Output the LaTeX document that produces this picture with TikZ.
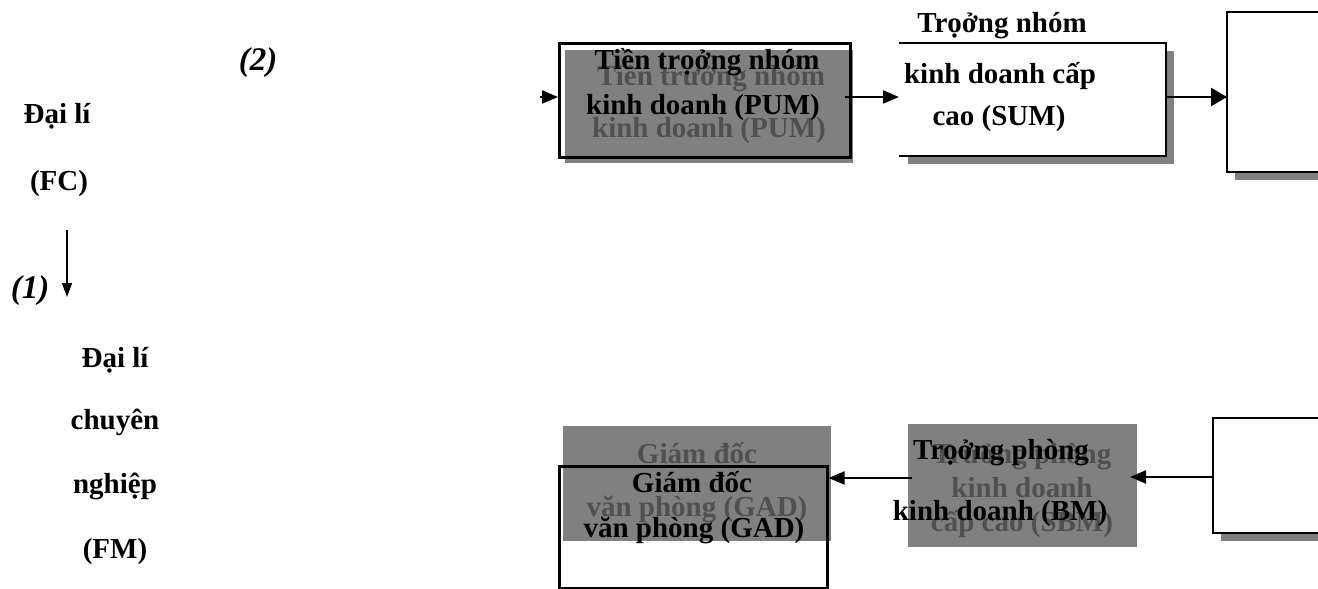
\documentclass[tikz,border=0pt]{standalone}
\usepackage{fontspec}
\setmainfont{Liberation Serif}
\usetikzlibrary{arrows.meta}
\definecolor{boxgray}{RGB}{128,128,128}
\definecolor{ghostgray}{RGB}{80,80,80}
\begin{document}
\begin{tikzpicture}[x=1pt,y=-1pt,
  lbl/.style={font=\bfseries\fontsize{29}{34}\selectfont, inner sep=0pt, anchor=base},
  ghost/.style={lbl, text=ghostgray},
  num/.style={font=\bfseries\itshape\fontsize{33}{38}\selectfont, inner sep=0pt, anchor=base},
  shade/.style={fill=boxgray, draw=none, inner sep=0pt, anchor=north west},
  frame/.style={draw, line width=2.6pt, inner sep=0pt, anchor=north west},
  blank/.style={draw=none, inner sep=0pt, anchor=north west},
  edge/.style={line width=2pt},
  link/.style={line width=2.2pt, -{Triangle[length=16pt,width=13pt]}},
  biglink/.style={line width=2.6pt, -{Triangle[length=16pt,width=18pt]}},
  thinlink/.style={line width=1.3pt, -{Triangle[length=14pt,width=10pt]}},
]
\useasboundingbox (0,0) rectangle (1318,589);

% ---- left column: agent levels ----
\node[num] (n2) at (258,70) {(2)};
\node[lbl] (fc1) at (57,123) {Đại lí};
\node[lbl] (fc2) at (59,190) {(FC)};
\node[num] (n1) at (30,298) {(1)};
\coordinate (fcdown) at (67,230);
\coordinate (fmup) at (67,297);
\draw[thinlink] (fcdown) -- (fmup);
\node[lbl] (fm1) at (115,367) {Đại lí};
\node[lbl] (fm2) at (115,429) {chuyên};
\node[lbl] (fm3) at (115,493) {nghiệp};
\node[lbl] (fm4) at (115,558) {(FM)};

% ---- PUM ----
\node[shade, minimum width=288pt, minimum height=113pt] (pumshade) at (565,50) {};
\node[ghost] (pumg1) at (711,85) {Tiền trưởng nhóm};
\node[ghost] (pumg2) at (709,137) {kinh doanh (PUM)};
\node[lbl] (pum1) at (707,69) {Tiền trọởng nhóm};
\node[lbl] (pum2) at (703,114) {kinh doanh (PUM)};
\node[frame, minimum width=291pt, minimum height=114pt] (pumframe) at (558,42) {};
\coordinate (pumin) at (540,97);
\draw[link] (pumin) -- (pumin -| pumframe.west);

% ---- SUM ----
\fill[boxgray] (1166,51) rectangle (1174,164);
\fill[boxgray] (908,156) rectangle (1174,164);
\node[blank, minimum width=267pt, minimum height=113pt] (sumbox) at (899,43) {};
\draw[edge] (sumbox.north west) -- (sumbox.north east) -- (sumbox.south east) -- (sumbox.south west);
\node[lbl] (sum1) at (1002,32) {Trọởng nhóm};
\node[lbl] (sum2) at (1000,83) {kinh doanh cấp};
\node[lbl] (sum3) at (999,125) {cao (SUM)};
\coordinate (pumout) at (845,97);
\draw[link] (pumout) -- (pumout -| sumbox.west);

% ---- top right box ----
\fill[boxgray] (1235,172) rectangle (1318,180);
\node[blank, minimum width=91pt, minimum height=160pt] (topright) at (1227,12) {};
\draw[edge] (topright.north east) -- (topright.north west) -- (topright.south west) -- (topright.south east);
\coordinate (sumout) at (1166,97);
\draw[biglink] (sumout) -- (sumout -| topright.west);

% ---- lower right box ----
\fill[boxgray] (1221,533) rectangle (1318,541);
\node[blank, minimum width=105pt, minimum height=115pt] (lowright) at (1213,418) {};
\draw[edge] (lowright.north east) -- (lowright.north west) -- (lowright.south west) -- (lowright.south east);

% ---- BM ----
\node[shade, minimum width=229pt, minimum height=123pt] (bmshade) at (908,424) {};
\node[ghost] (bmg1) at (1022,463) {Trưởng phòng};
\node[ghost] (bmg2) at (1022,497) {kinh doanh};
\node[ghost] (bmg3) at (1022,531) {cấp cao (SBM)};
\node[lbl] (bm1) at (1001,459) {Trọởng phòng};
\node[lbl] (bm2) at (1000,520) {kinh doanh (BM)};
\coordinate (lowin) at (1213,477);
\coordinate (bmtip) at (1130,477);
\draw[link] (lowin) -- (bmtip);

% ---- GAD ----
\node[shade, minimum width=268pt, minimum height=115pt] (gadshade) at (563,426) {};
\node[ghost] (gadg1) at (697,463) {Giám đốc};
\node[ghost] (gadg2) at (697,516) {văn phòng (GAD)};
\node[lbl] (gad1) at (692,492) {Giám đốc};
\node[lbl] (gad2) at (694,537) {văn phòng (GAD)};
\node[frame, minimum width=268pt, minimum height=122pt] (gadframe) at (558,465) {};
\coordinate (bmout) at (912,478);
\draw[link] (bmout) -- (bmout -| gadframe.east);
\end{tikzpicture}
\end{document}
